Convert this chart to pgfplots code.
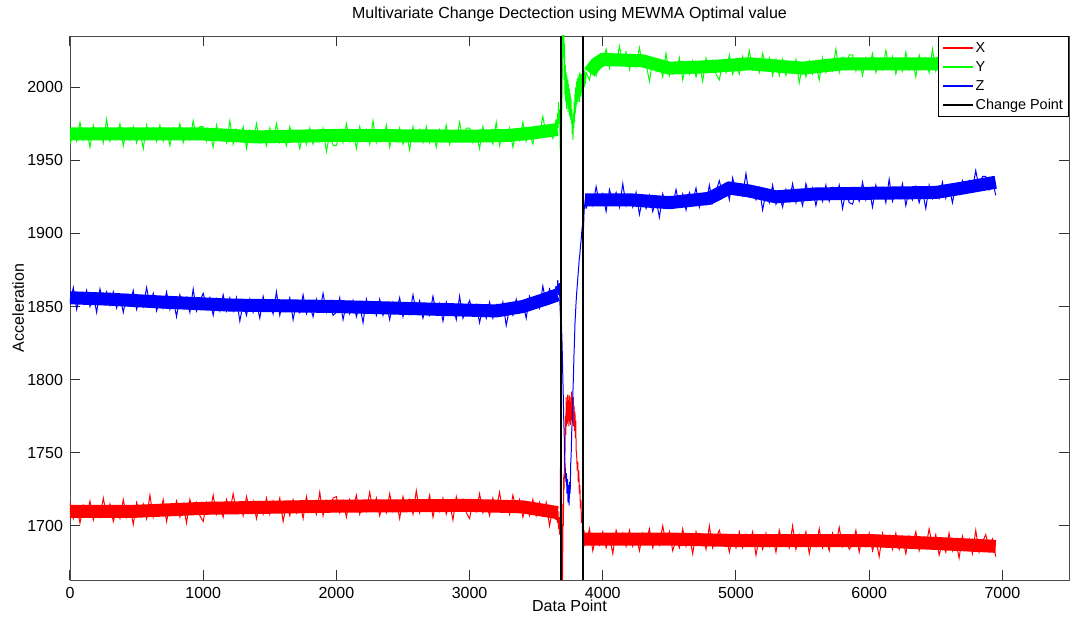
\documentclass[border=0pt]{standalone}
\usepackage{fontspec}
\setmainfont{Liberation Sans}
\usepackage{pgfplots}
\pgfplotsset{compat=1.18}
\usepackage{pgfplotstable}
\definecolor{mred}{rgb}{1,0,0}
\definecolor{mgreen}{rgb}{0,1,0}
\definecolor{mblue}{rgb}{0,0,1}

% samples before the first change point
\pgfplotstableread{
x X Y Z
0 1716 1961 1853
25 1705 1969 1863
50 1713 1963 1848
75 1702 1976 1859
100 1714 1964 1852
125 1708 1971 1861
150 1717 1959 1850
175 1704 1974 1858
200 1712 1966 1846
225 1706 1972 1862
250 1719 1962 1853
275 1707 1978 1860
300 1715 1963 1851
325 1703 1970 1860
350 1711 1965 1849
375 1705 1975 1857
400 1718 1960 1846
425 1706 1971 1858
450 1713 1964 1852
475 1701 1973 1861
500 1716 1962 1848
525 1709 1970 1856
550 1715 1958 1850
575 1705 1974 1863
600 1721 1965 1851
625 1706 1972 1859
650 1713 1963 1847
675 1708 1974 1855
700 1718 1963 1849
725 1703 1971 1860
750 1714 1960 1848
775 1708 1972 1855
800 1717 1966 1843
825 1706 1975 1858
850 1714 1962 1850
875 1702 1970 1856
900 1718 1964 1846
925 1709 1977 1862
950 1716 1965 1847
975 1707 1973 1854
1000 1703 1973 1859
1025 1716 1963 1850
1050 1709 1970 1856
1075 1721 1959 1844
1100 1708 1974 1855
1125 1714 1964 1847
1150 1706 1969 1858
1175 1718 1962 1847
1200 1710 1977 1856
1225 1722 1961 1847
1250 1709 1971 1856
1275 1715 1965 1840
1300 1707 1973 1852
1325 1720 1958 1844
1350 1711 1970 1855
1375 1717 1963 1846
1400 1705 1975 1853
1425 1716 1962 1842
1450 1708 1968 1857
1475 1719 1960 1847
1500 1708 1972 1852
1525 1717 1963 1845
1550 1710 1975 1860
1575 1719 1962 1844
1600 1703 1968 1854
1625 1715 1960 1848
1650 1707 1973 1856
1675 1718 1964 1841
1700 1709 1970 1853
1725 1716 1958 1846
1750 1705 1969 1858
1775 1720 1961 1845
1800 1710 1972 1851
1825 1715 1961 1843
1850 1708 1970 1855
1875 1723 1963 1847
1900 1707 1972 1859
1925 1717 1956 1846
1950 1711 1968 1852
1975 1719 1960 1844
2000 1720 1960 1846
2025 1709 1968 1856
2050 1717 1962 1841
2075 1706 1975 1852
2100 1718 1963 1845
2125 1712 1970 1854
2150 1721 1958 1843
2175 1708 1973 1851
2200 1716 1965 1839
2225 1710 1971 1855
2250 1723 1961 1846
2275 1711 1977 1853
2300 1719 1962 1844
2325 1707 1969 1855
2350 1715 1964 1844
2375 1709 1974 1852
2400 1722 1959 1841
2425 1710 1970 1853
2450 1717 1963 1847
2475 1705 1972 1856
2500 1720 1961 1843
2525 1712 1969 1851
2550 1718 1957 1845
2575 1708 1973 1858
2600 1724 1964 1846
2625 1709 1971 1854
2650 1716 1962 1842
2675 1711 1973 1850
2700 1721 1962 1844
2725 1706 1970 1857
2750 1717 1959 1845
2775 1710 1971 1852
2800 1719 1965 1840
2825 1708 1974 1853
2850 1716 1961 1845
2875 1704 1969 1851
2900 1720 1963 1841
2925 1711 1976 1857
2950 1718 1964 1842
2975 1709 1972 1849
3000 1705 1972 1854
3025 1717 1962 1845
3050 1710 1969 1851
3075 1722 1958 1839
3100 1709 1973 1850
3125 1715 1963 1842
3150 1707 1968 1853
3175 1719 1961 1842
3200 1711 1976 1851
3225 1723 1960 1844
3250 1710 1970 1853
3275 1716 1964 1837
3300 1708 1972 1849
3325 1721 1959 1844
3350 1712 1971 1855
3375 1718 1964 1846
3400 1706 1976 1853
3425 1715 1963 1842
3450 1707 1969 1857
3475 1718 1961 1851
3500 1707 1973 1856
3525 1716 1968 1849
3550 1707 1980 1864
3575 1716 1967 1852
3600 1700 1973 1862
3625 1712 1965 1856
3650 1704 1978 1864
}\pre

% samples after the second change point
\pgfplotstableread{
x X Y Z
3875 1688 2010 1917
3900 1698 2005 1925
3925 1683 2016 1919
3950 1694 2008 1932
3975 1687 2021 1920
4000 1696 2017 1927
4025 1685 2026 1915
4050 1693 2013 1930
4075 1681 2021 1922
4100 1697 2015 1928
4125 1688 2028 1918
4150 1695 2016 1934
4175 1686 2024 1919
4200 1697 2012 1926
4225 1686 2020 1918
4250 1694 2014 1928
4275 1683 2027 1913
4300 1695 2015 1924
4325 1689 2016 1917
4350 1698 2004 1926
4375 1685 2019 1915
4400 1693 2011 1923
4425 1687 2017 1911
4450 1700 2007 1927
4475 1688 2023 1918
4500 1696 2008 1925
4525 1683 2015 1919
4550 1691 2010 1930
4575 1685 2020 1919
4600 1698 2005 1927
4625 1686 2016 1916
4650 1693 2009 1928
4675 1681 2018 1922
4700 1696 2007 1931
4725 1688 2016 1918
4750 1694 2004 1926
4775 1684 2020 1920
4800 1700 2011 1933
4825 1685 2018 1921
4850 1692 2009 1929
4875 1697 2005 1936
4900 1688 2017 1927
4925 1694 2010 1934
4950 1682 2022 1923
4975 1693 2009 1938
5000 1685 2015 1928
5025 1696 2009 1933
5050 1685 2021 1926
5075 1694 2013 1941
5100 1687 2025 1925
5125 1696 2012 1929
5150 1680 2018 1923
5175 1692 2010 1931
5200 1684 2023 1916
5225 1695 2014 1928
5250 1686 2020 1921
5275 1693 2008 1933
5300 1682 2019 1920
5325 1697 2008 1926
5350 1687 2019 1918
5375 1692 2008 1930
5400 1685 2017 1922
5425 1700 2010 1934
5450 1684 2019 1921
5475 1694 2003 1927
5500 1688 2015 1919
5525 1696 2007 1934
5550 1681 2018 1925
5575 1693 2009 1931
5600 1686 2016 1919
5625 1698 2005 1930
5650 1685 2020 1922
5675 1691 2010 1933
5700 1683 2015 1922
5725 1695 2011 1931
5750 1687 2026 1924
5775 1699 2010 1933
5800 1686 2020 1917
5825 1692 2014 1929
5850 1684 2022 1921
5875 1687 2022 1920
5900 1697 2011 1928
5925 1682 2019 1922
5950 1693 2008 1935
5975 1686 2020 1923
6000 1695 2014 1930
6025 1683 2023 1918
6050 1691 2010 1933
6075 1679 2018 1925
6100 1695 2012 1931
6125 1686 2025 1921
6150 1693 2013 1937
6175 1684 2021 1922
6200 1695 2009 1929
6225 1684 2017 1924
6250 1692 2011 1934
6275 1681 2024 1919
6300 1693 2012 1930
6325 1687 2019 1923
6350 1696 2007 1932
6375 1683 2022 1921
6400 1691 2014 1929
6425 1685 2020 1917
6450 1698 2010 1933
6475 1686 2026 1924
6500 1694 2011 1931
6525 1680 2018 1924
6550 1688 2013 1935
6575 1682 2023 1924
6600 1695 2008 1932
6625 1683 2019 1921
6650 1690 2012 1933
6675 1678 2021 1927
6700 1693 2010 1936
6725 1685 2018 1928
6750 1691 2006 1936
6775 1681 2022 1930
6800 1697 2013 1943
6825 1682 2020 1931
6850 1689 2011 1939
6875 1694 2007 1939
6900 1685 2019 1930
6925 1691 2012 1937
6950 1679 2024 1926
}\post

\begin{document}
\begin{tikzpicture}
\useasboundingbox (-35pt,-19.5pt) rectangle (500pt,290pt);
\begin{axis}[
  scale only axis, width=499.5pt, height=272pt,
  xmin=0, xmax=7500, ymin=1663, ymax=2035,
  xtick={0,1000,...,7000}, ytick={1700,1750,...,2000},
  scaled ticks=false,
  /pgf/number format/1000 sep={},
  /pgf/number format/assume math mode=true,
  tick align=inside, major tick length=5pt,
  axis line style={black!70},
  every tick/.style={black!80, line width=0.5pt},
  tick label style={font=\fontsize{8}{9.6}\selectfont},
  label style={font=\fontsize{8}{9.6}\selectfont},
  every axis title shift=0pt,
  title={Multivariate Change Dectection using MEWMA Optimal value},
  title style={font=\fontsize{8}{9.6}\selectfont, at={(axis description cs:0.5,1.04)}, anchor=center},
  xlabel={Data Point}, ylabel={Acceleration},
  xlabel style={at={(axis description cs:0.5,-0.048)}, anchor=center},
  ylabel style={at={(axis description cs:-0.052,0.5)}, anchor=center},
  legend cell align=left,
  legend image code/.code={\draw[#1] (0pt,0pt) -- (15pt,0pt);},
  legend style={at={(1,1)}, anchor=north east, draw=black, fill=white,
    font=\fontsize{7.2}{8}\selectfont, inner xsep=2pt, inner ysep=1pt,
    nodes={inner sep=0.8pt, text height=6.3pt, text depth=1.6pt}},
  core/.style={line width=6.5pt, forget plot},
  noise/.style={line width=0.5pt, forget plot},
]
\addlegendimage{draw=red, line width=0.8pt}
\addlegendentry{X}
\addlegendimage{draw=green, line width=0.8pt}
\addlegendentry{Y}
\addlegendimage{draw=blue, line width=0.8pt}
\addlegendentry{Z}
\addlegendimage{draw=black, line width=1pt}
\addlegendentry{Change Point}
% X
\addplot[mred, core] coordinates {(0,1710) (500,1710) (1000,1712) (2000,1713.5) (3000,1714) (3400,1713) (3600,1710) (3660,1709)};
\addplot[mred, noise] table[x=x, y=X] {\pre};
\addplot[mred, noise] coordinates {(3650,1704) (3655,1712) (3660,1702) (3664,1710) (3668,1698) (3672,1706) (3676,1694) (3680,1700) (3683,1748) (3686,1705) (3689,1730) (3692,1640) (3695,1700) (3698,1655) (3701,1715) (3704,1700) (3707,1735) (3710,1725) (3713,1760) (3716,1748) (3719,1775) (3722,1762) (3725,1788) (3728,1768) (3731,1785) (3734,1770) (3737,1790) (3740,1772) (3743,1786) (3746,1768) (3749,1789) (3752,1771) (3755,1785) (3758,1769) (3761,1788) (3764,1772) (3767,1792) (3770,1774) (3773,1786) (3776,1770) (3779,1788) (3782,1768) (3785,1782) (3788,1765) (3791,1778) (3794,1760) (3797,1772) (3800,1752) (3804,1748) (3808,1738) (3812,1744) (3816,1730) (3820,1738) (3824,1722) (3828,1728) (3832,1712) (3836,1718) (3840,1702) (3844,1708) (3848,1694) (3852,1700) (3856,1690) (3860,1697) (3865,1686) (3870,1694) (3875,1688)};
\addplot[mred, core] coordinates {(3862,1691) (4500,1691) (5000,1690) (6000,1690) (6500,1688) (6950,1686)};
\addplot[mred, noise] table[x=x, y=X] {\post};
% Y
\addplot[mgreen, core] coordinates {(0,1968) (1000,1968) (1400,1966) (2000,1967) (3000,1966.5) (3300,1967) (3500,1969) (3660,1971)};
\addplot[mgreen, noise] table[x=x, y=Y] {\pre};
\addplot[mgreen, noise] coordinates {(3650,1978) (3655,1970) (3660,1982) (3664,1972) (3668,1990) (3672,1975) (3676,1985) (3680,1960) (3683,1955) (3686,1950) (3689,1968) (3692,1985) (3695,2000) (3698,2030) (3701,2045) (3704,2020) (3707,2040) (3710,2005) (3713,2030) (3716,1995) (3719,2015) (3722,1990) (3725,2010) (3728,1985) (3731,2008) (3734,1988) (3737,2005) (3740,1983) (3743,2002) (3746,1985) (3749,1999) (3752,1980) (3755,1996) (3758,1978) (3761,1993) (3764,1975) (3767,1985) (3770,1968) (3773,1978) (3776,1964) (3779,1982) (3782,1972) (3785,1990) (3788,1976) (3791,1995) (3794,1982) (3797,2000) (3800,1986) (3803,2004) (3806,1988) (3809,2006) (3812,1990) (3815,2008) (3818,1992) (3821,2006) (3824,1990) (3827,2010) (3830,1994) (3833,2008) (3836,1993) (3839,2009) (3842,1996) (3845,2006) (3848,1995) (3851,2008) (3854,1998) (3858,2010) (3862,2000) (3866,2012) (3870,2002) (3875,2010)};
\addplot[mgreen, core] coordinates {(3900,2010) (3950,2016) (4000,2019) (4300,2018) (4500,2013) (4800,2014) (5100,2016) (5500,2013) (5800,2016) (6500,2016) (6950,2017)};
\addplot[mgreen, noise] table[x=x, y=Y] {\post};
% Z
\addplot[mblue, core] coordinates {(0,1856) (300,1855) (700,1853) (1200,1851) (2000,1850) (2800,1848) (3200,1847) (3400,1850) (3500,1853) (3600,1856) (3660,1858)};
\addplot[mblue, noise] table[x=x, y=Z] {\pre};
\addplot[mblue, noise] coordinates {(3650,1864) (3656,1856) (3662,1868) (3668,1858) (3674,1866) (3679,1850) (3683,1842) (3687,1845) (3691,1834) (3695,1822) (3699,1805) (3703,1790) (3707,1772) (3711,1760) (3715,1745) (3719,1738) (3723,1730) (3727,1736) (3731,1722) (3735,1732) (3739,1716) (3743,1728) (3747,1714) (3751,1730) (3755,1722) (3759,1742) (3763,1750) (3767,1765) (3771,1772) (3775,1790) (3779,1800) (3783,1815) (3787,1825) (3791,1838) (3795,1845) (3799,1852) (3803,1858) (3808,1864) (3813,1870) (3818,1876) (3823,1882) (3828,1886) (3833,1892) (3838,1896) (3843,1902) (3848,1906) (3853,1898) (3860,1916) (3867,1922) (3875,1917)};
\addplot[mblue, core] coordinates {(3868,1923) (4200,1923) (4500,1921) (4800,1924) (4950,1931) (5100,1929) (5300,1925) (5600,1927) (6500,1928) (6700,1931) (6950,1935)};
\addplot[mblue, noise] table[x=x, y=Z] {\post};
% change points
\addplot[black, line width=1pt, forget plot] coordinates {(3683,1663) (3683,2035)};
\addplot[black, line width=1pt, forget plot] coordinates {(3855,1663) (3855,2035)};
\end{axis}
\end{tikzpicture}
\end{document}
